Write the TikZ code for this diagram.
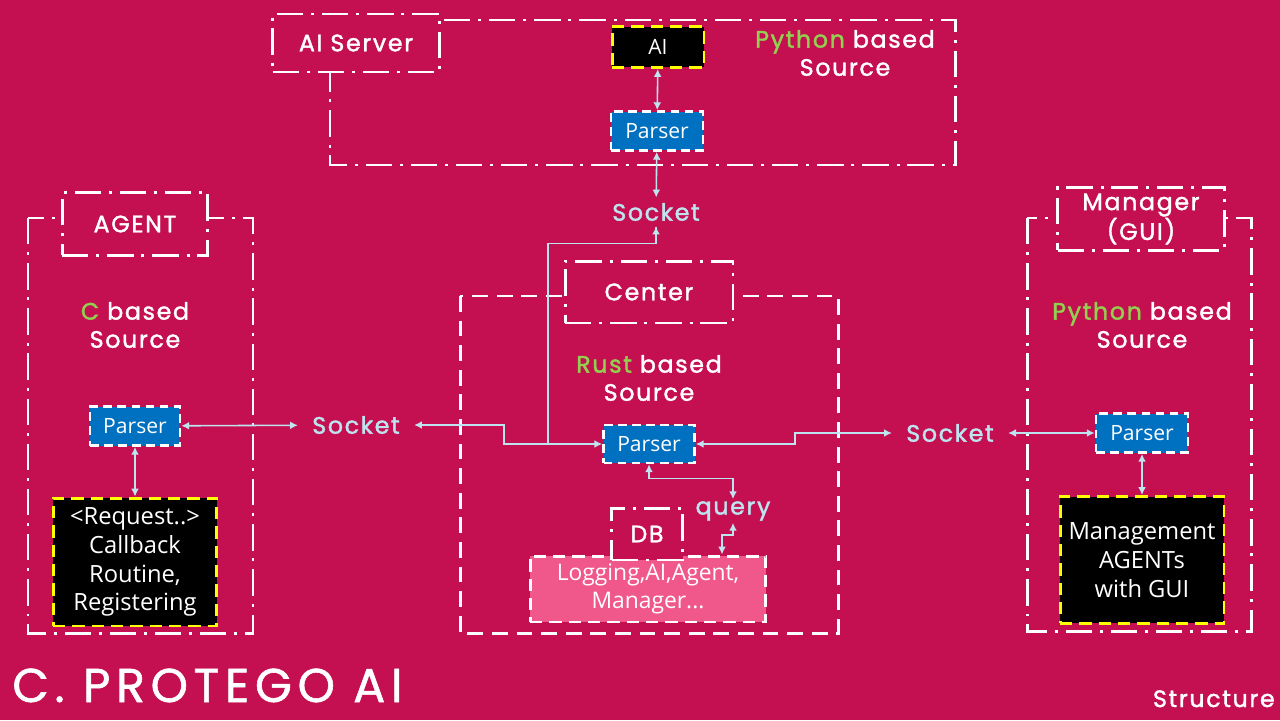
\documentclass[tikz,border=0pt]{standalone}
\usepackage{fontspec}
\setmainfont{Open Sans}
\newfontfamily\techfont{Poppins}[LetterSpace=7, FakeBold=1.6]
\newfontfamily\techwide{Poppins}[LetterSpace=12, FakeBold=1.2]
\usetikzlibrary{arrows.meta, positioning, calc}
\definecolor{protBg}{RGB}{196,16,80}
\definecolor{protBlue}{RGB}{0,112,192}
\definecolor{protPink}{RGB}{240,88,140}
\definecolor{protGreen}{RGB}{146,208,80}
\definecolor{protSky}{RGB}{190,228,240}
\definecolor{protYellow}{RGB}{255,255,0}
\newcommand{\langname}[1]{\textcolor{protGreen}{#1}}

\tikzset{
  grpline/.style={white, line width=1.7pt, dash pattern=on 15pt off 4.5pt on 1.7pt off 4.5pt},
  grptitle/.style={grpline, draw=white, fill=protBg, text=white, align=center,
    font=\techfont\fontsize{13.5}{17}\selectfont},
  parsebox/.style={fill=protBlue, draw=white, line width=1.5pt, dash pattern=on 5pt off 3pt,
    text=white, font=\fontsize{12}{14}\selectfont, minimum width=1.84cm, minimum height=0.78cm},
  blackbox/.style={fill=black, draw=protYellow, line width=1.7pt, dash pattern=on 7pt off 4pt,
    text=white, align=center, font=\fontsize{13.5}{16.4}\selectfont},
  srclbl/.style={text=white, align=center, font=\techfont\fontsize{13.5}{16}\selectfont},
  socklbl/.style={text=protSky, inner xsep=8pt, inner ysep=3pt,
    font=\techfont\fontsize{13.5}{16}\selectfont},
  link/.style={protSky, line width=0.9pt, {Latex[length=4.5pt,width=4.5pt]}-{Latex[length=4.5pt,width=4.5pt]}},
}

\begin{document}
\begin{tikzpicture}[x=0.02cm, y=-0.02cm]
  \fill[protBg] (0,0) rectangle (1280,720);
  \useasboundingbox (0,0) rectangle (1280,720);

  % group frames
  \draw[grpline] (330,20) rectangle (955,165);
  \draw[grpline] (28,218) rectangle (253,633);
  \draw[white, line width=1.7pt, dash pattern=on 9pt off 5pt] (460,296) rectangle (838,633);
  \draw[grpline] (1027,218) rectangle (1251,631);

  % AI server
  \node[grptitle, minimum width=3.34cm, minimum height=1.16cm] (ttlServer) at (356,43) {AI Server};
  \node[blackbox, font=\fontsize{12}{14}\selectfont, minimum width=1.84cm, minimum height=0.82cm] (aiN) at (658,47) {AI};
  \node[parsebox] (parS) at (657,131) {Parser};
  \node[srclbl] (srcServer) at (845,53) {\langname{Python} based\\Source};
  \node[socklbl] (socketT) at (656,212) {Socket};

  % agent
  \node[grptitle, minimum width=2.92cm, minimum height=1.26cm] (ttlAgent) at (135,224) {AGENT};
  \node[srclbl] (srcAgent) at (135,325) {\langname{C} based\\Source};
  \node[parsebox, minimum width=1.8cm] (parA) at (135,426) {Parser};
  \node[blackbox, minimum width=3.28cm, minimum height=2.56cm] (reqBox) at (135,562)
    {<Request..>\\Callback\\Routine,\\Registering};
  \node[socklbl] (socketL) at (356,425) {Socket};

  % center
  \node[grptitle, minimum width=3.36cm, minimum height=1.24cm] (ttlCenter) at (649,292) {Center};
  \node[srclbl] (srcCenter) at (649,378) {\langname{Rust} based\\Source};
  \node[parsebox, minimum width=1.82cm, minimum height=0.76cm] (parC) at (649,444) {Parser};
  \node[fill=protPink, draw=white, line width=1.7pt, dash pattern=on 7pt off 4pt, text=white,
    align=center, font=\fontsize{13}{16}\selectfont, minimum width=4.72cm, minimum height=1.32cm]
    (logBox) at (648,589) {Logging,AI,Agent,\\Manager...};
  \node[grptitle, minimum width=1.42cm, minimum height=1.04cm] (dbBox) at (647,534) {DB};
  \node[text=protSky, inner sep=1pt, font=\techfont\fontsize{13.5}{16}\selectfont] (query) at (733,511) {query};
  \coordinate (jn) at (548,445);

  % manager
  \node[grptitle, minimum width=3.34cm, minimum height=1.24cm] (ttlMgr) at (1141,219) {Manager\\(GUI)};
  \node[srclbl] (srcMgr) at (1142,325) {\langname{Python} based\\Source};
  \node[parsebox] (parM) at (1142,433) {Parser};
  \node[blackbox, minimum width=3.28cm, minimum height=2.54cm] (mgmtBox) at (1142,560)
    {Management\\AGENTs\\with GUI};
  \node[socklbl] (socketR) at (950,433) {Socket};

  % connectors
  \draw[link] (aiN) -- (parS);
  \draw[link] (parS) -- (socketT);
  \draw[link] (parA) -- (socketL);
  \draw[link] (parA) -- (reqBox);
  \draw[link] (socketL.east) -- ++(90,0) |- (parC.west);
  \draw[link, -] (socketT.south) -- ++(0,17) -| (jn);
  \draw[protSky, line width=0.9pt, {Latex[length=4.5pt,width=4.5pt]}-] (socketT.south) -- ++(0,1);
  \draw[link] (parC.east) -- ++(99,0) |- (socketR.west);
  \draw[link] (parC.south) -- ++(0,14) -| (query.north);
  \draw[link] (query.south) -- ++(0,12) -| ($(logBox.north)+(74,0)$);
  \draw[link] (socketR) -- (parM);
  \draw[link] (parM) -- (mgmtBox);

  % captions
  \node[anchor=base west, text=white, inner sep=0pt, font=\techwide\fontsize{27}{30}\selectfont]
    (ttlMain) at (12,702) {C. PROTEGO AI};
  \node[anchor=base east, text=white, inner sep=0pt, font=\techfont\fontsize{13.5}{15}\selectfont]
    (lblStructure) at (1275,707) {Structure};
\end{tikzpicture}
\end{document}
